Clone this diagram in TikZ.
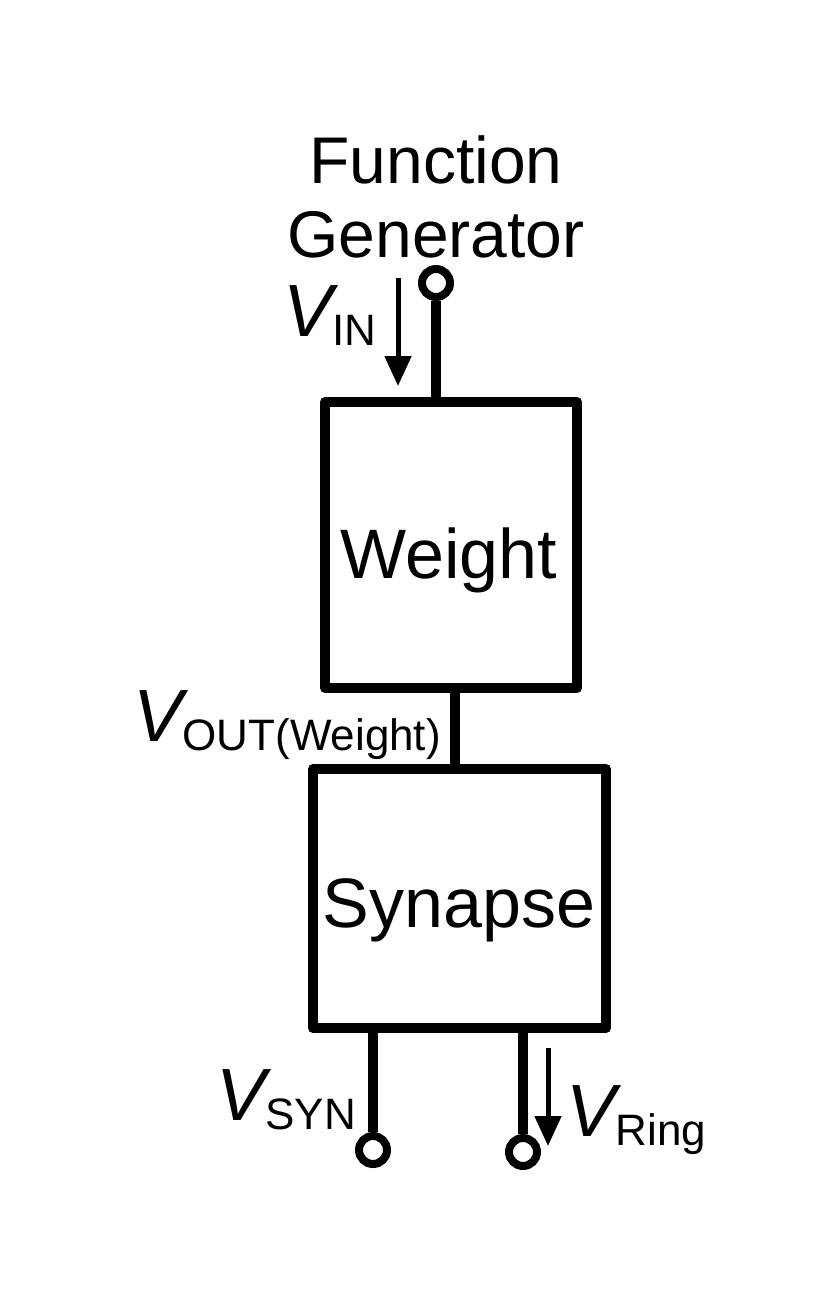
\documentclass[tikz,border=0pt]{standalone}
\usepackage{fontspec}
\setmainfont{Liberation Sans}
\usetikzlibrary{arrows.meta}
\tikzset{
 wire/.style={line width=10pt},
 blk/.style={line width=10pt, line join=round},
 term/.style={circle, draw, line width=8pt, fill=white, minimum size=28pt, inner sep=0pt},
 varr/.style={line width=5pt, -{Triangle[length=30pt,width=26pt]}},
 big/.style={font=\fontsize{70}{80}\selectfont, inner sep=0pt},
 lab/.style={inner sep=0pt, anchor=base west}
}
\newcommand{\Vsub}[1]{{\fontsize{74}{80}\selectfont\itshape V}\raisebox{-9pt}{\fontsize{44}{50}\selectfont #1}}
\begin{document}
\begin{tikzpicture}[x=1pt,y=-1pt]
\useasboundingbox (0,0) rectangle (829,1294);
\draw[blk] (325,402) rectangle (577,688);
\draw[blk] (313,769) rectangle (606,1028);
\node[big] (w) at (449,560) {Weight};
\node[big] (s) at (459,910) {Synapse};
\node[font=\fontsize{66}{78}\selectfont, inner sep=0pt, align=center] (fg) at (436,197) {Function\\[-4pt]Generator};
\node[term] (tin) at (436,283) {};
\coordinate (wtop) at (436,402);
\draw[wire] (tin) -- (wtop);
\coordinate (wbot) at (455,688);
\coordinate (stop) at (455,769);
\draw[wire] (wbot) -- (stop);
\node[term] (tsyn) at (373,1150) {};
\node[term] (tring) at (523,1152) {};
\coordinate (s1) at (373,1028);
\coordinate (s2) at (523,1028);
\draw[wire] (s1) -- (tsyn);
\draw[wire] (s2) -- (tring);
\coordinate (a1) at (398,278); \coordinate (a2) at (398,386);
\draw[varr] (a1) -- (a2);
\coordinate (b1) at (548,1048); \coordinate (b2) at (548,1146);
\draw[varr] (b1) -- (b2);
\node[lab] (vin) at (283,336) {\Vsub{IN}};
\node[lab] (vout) at (133,741) {\Vsub{OUT(Weight)}};
\node[lab] (vsyn) at (216,1120) {\Vsub{SYN}};
\node[lab] (vring) at (566,1136) {\Vsub{Ring}};
\end{tikzpicture}
\end{document}
